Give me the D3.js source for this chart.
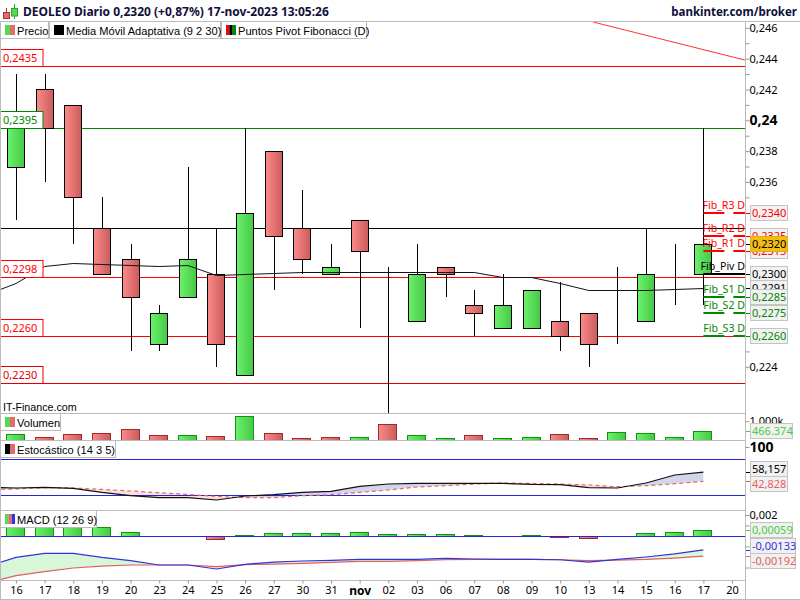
<!DOCTYPE html>
<html>
<head>
<meta charset="utf-8">
<title>DEOLEO Diario</title>
<script src="https://cdnjs.cloudflare.com/ajax/libs/d3/7.8.5/d3.min.js"></script>
<style>
	html, body { margin: 0; padding: 0; background: #fff; }
	svg { display: block; }
	text { font-family: "Noto Sans", Tahoma, sans-serif; font-size: 11px; }
	text.small { font-family: "Liberation Sans", Arial, sans-serif; font-size: 11.1px; }
	text.fib { font-size: 10.6px; }
</style>
</head>
<body>
<svg id="chart" width="800" height="600"></svg>
<script>
const dayLabels = ['16','17','18','19','20','23','24','25','26','27','30','31','nov','02','03','06','07','08','09','10','13','14','15','16','17','20'];

const opens  = [.2370,.2420,.2410,.2330,.2310,.2255,.2285,.2300,.2235,.2380,.2330,.2300,.2335,.2290,.2270,.2305,.2280,.2265,.2265,.2270,.2275,.2290,.2270,.2300,.2300];
const highs  = [.2430,.2430,.2410,.2350,.2320,.2280,.2370,.2330,.2395,.2380,.2355,.2320,.2335,.2305,.2320,.2305,.2290,.2300,.2290,.2295,.2275,.2305,.2330,.2320,.2395];
const lows   = [.2335,.2360,.2320,.2300,.2250,.2250,.2285,.2240,.2235,.2290,.2300,.2300,.2265,.2210,.2270,.2285,.2260,.2265,.2265,.2250,.2240,.2255,.2270,.2280,.2280];
const closes = [.2395,.2395,.2350,.2300,.2285,.2275,.2310,.2255,.2340,.2325,.2310,.2305,.2315,.2290,.2300,.2300,.2275,.2280,.2290,.2260,.2255,.2290,.2300,.2300,.2320];

const maBefore = .2287;
const maValues = [.22942,.23052,.23076,.2307,.23063,.23057,.23063,.22994,.23005,.23011,.23013,.23013,.23013,.23013,.23013,.23013,.23015,.22981,.22981,.22942,.22901,.22901,.22901,.22903,.2291];

const volumes = [305000,145000,305000,360000,575000,250000,250000,200000,1270000,360000,90000,145000,145000,840000,250000,90000,250000,90000,145000,305000,90000,415000,360000,145000,466374];
const volumeUp = [1,0,0,0,0,0,1,0,1,0,0,0,1,0,1,1,0,1,1,0,0,1,1,1,1];

const stochBefore = [33, 28.8];
const stochK = [31.7,32.7,31,24.3,18.8,15.5,15.5,11.7,18.3,20.5,24.3,26,34.3,38.3,39.3,39.3,39.3,39.3,37.7,37.2,32.2,31.7,40,53.3,58.157];
const stochD = [30,32.2,31.7,29.3,26.7,23.8,21,17.7,15.5,15.5,18.8,20.5,24.3,28.3,33.3,35.5,38.3,40,39.3,38.3,36.7,33.8,35.5,38.8,42.828];

const macdBefore = [-.00289, -.00445];
const macdLine = [-.00204,-.00166,-.00166,-.00204,-.00235,-.00276,-.00276,-.00314,-.0027,-.00248,-.00238,-.00232,-.00223,-.00223,-.00223,-.00213,-.00219,-.00223,-.00223,-.00226,-.00248,-.00223,-.002,-.00171,-.00133];
const macdSignal = [-.00378,-.0034,-.00305,-.00286,-.00276,-.00276,-.00276,-.00292,-.00273,-.00267,-.00261,-.00251,-.00242,-.00242,-.00235,-.00226,-.00223,-.00223,-.00223,-.00226,-.00235,-.00229,-.00223,-.0021,-.00192];
const macdHist = [.0012,.0012,.0011,.00088,.00038,0,0,-.00032,.0001,.00028,.00028,.00028,.00038,.00019,.00019,.00019,.0001,0,.0001,-.00013,-.00023,0,.00028,.00038,.00059];

const levelValues = [.2435,.2395,.2298,.2260,.22296,.2330];
const levelColors = ['#f00','#080','#f00','#f00','#e00000','#000'];
const levelTagged = [1,1,1,1,1,0];

const trendIdx = [20.15,25.45];
const trendVal = [.24638,.24391];

const pivotNames = ['Fib_R3 D','Fib_R2 D','Fib_R1 D','Fib_Piv D','Fib_S1 D','Fib_S2 D','Fib_S3 D'];
const pivotValues = [.2340,.2325,.2315,.2300,.2285,.2275,.2260];
const pivotColors = ['#f00','#f00','#f00','#000','#080','#080','#080'];

const priceTicks = [.246,.244,.242,.24,.238,.236,.224];
const priceMinor = [.245,.243,.241,.239,.237,.235,.225];

const W = 800, H = 600, axisX = 745.5;
const GREY = '#bbb';
const crisp = v => Math.round(v) + .5;
const comma = (v, d) => v.toFixed(d).replace('.', ',');

const svg = d3.select('#chart');

// gradients for the bodies
const defs = svg.append('defs');
const gradient = (id, from, to) => {
	const g = defs.append('linearGradient').attr('id', id);
	g.append('stop').attr('offset', 0).attr('stop-color', from);
	g.append('stop').attr('offset', 1).attr('stop-color', to);
};
gradient('up', '#6cf26c', '#46c846');
gradient('down', '#fb8a8a', '#cc5c5c');

const clip = (id, x, y, w, h) => defs.append('clipPath').attr('id', id)
	.append('rect').attr('x', x).attr('y', y).attr('width', w).attr('height', h);
clip('clip-main', 1, 21, 744.5, 392);
clip('clip-vol', 1, 414, 744.5, 26);
clip('clip-sto', 1, 441, 744.5, 69);
clip('clip-macd', 1, 511, 744.5, 69);

const x = d3.scaleLinear().domain([0, 25]).range([16, 732]);
const y = d3.scaleLinear().domain([.2395, .2260]).range([128, 336]);
const yVol = d3.scaleLinear().domain([0, 1000000]).range([440, 421.3]);
const ySto = d3.scaleLinear().domain([20, 80]).range([495, 459]);
const yMacd = d3.scaleLinear().domain([0, .002]).range([536, 515]);

const main = svg.append('g').attr('clip-path', 'url(#clip-main)');

// horizontal levels
main.selectAll('line.level').data(levelValues).join('line')
	.attr('class', 'level')
	.attr('x1', 0).attr('x2', axisX)
	.attr('y1', d => crisp(y(d))).attr('y2', d => crisp(y(d)))
	.attr('stroke', (d, i) => levelColors[i]);

main.append('line')
	.attr('x1', x(trendIdx[0])).attr('y1', y(trendVal[0]))
	.attr('x2', x(trendIdx[1])).attr('y2', y(trendVal[1]))
	.attr('stroke', '#f33');

// candles
const candles = main.selectAll('g.candle').data(opens).join('g').attr('class', 'candle');
candles.append('line')
	.attr('x1', (d, i) => crisp(x(i))).attr('x2', (d, i) => crisp(x(i)))
	.attr('y1', (d, i) => Math.round(y(highs[i]))).attr('y2', (d, i) => Math.round(y(lows[i])))
	.attr('stroke', '#000');
candles.append('rect')
	.attr('x', (d, i) => crisp(x(i)) - 9)
	.attr('width', 17)
	.attr('y', (d, i) => crisp(y(Math.max(d, closes[i]))))
	.attr('height', (d, i) => Math.abs(Math.round(y(d)) - Math.round(y(closes[i]))))
	.attr('fill', (d, i) => closes[i] >= d ? 'url(#up)' : 'url(#down)')
	.attr('stroke', '#000');

// adaptive moving average
const withBefore = (before, values) => [[-1, before]].concat(values.map((v, i) => [i, v]));
main.append('path')
	.attr('d', d3.line().x(d => x(d[0])).y(d => crisp(y(d[1])))(withBefore(maBefore, maValues)))
	.attr('fill', 'none').attr('stroke', '#111');

// pivots
pivotValues.forEach((v, i) => {
	main.append('line')
		.attr('x1', x(24)).attr('x2', axisX)
		.attr('y1', Math.round(y(v))).attr('y2', Math.round(y(v)))
		.attr('stroke', pivotColors[i]).attr('stroke-width', 2)
		.attr('stroke-dasharray', i == 3 ? null : '21 9');
	main.append('text')
		.attr('class', 'fib')
		.attr('x', 745).attr('y', Math.round(y(v)) - 4)
		.attr('text-anchor', 'end')
		.attr('fill', pivotColors[i])
		.text(pivotNames[i]);
});

// tags on the left side of the levels
levelValues.forEach((v, i) => {
	if (!levelTagged[i]) return;
	const ly = crisp(y(v));
	svg.append('rect')
		.attr('x', -1).attr('y', ly - 17).attr('width', 44).attr('height', 17)
		.attr('fill', '#fff').attr('stroke', levelColors[i]);
	svg.append('text')
		.attr('x', 3).attr('y', ly - 4.5).attr('fill', levelColors[i]).text(comma(v, 4));
});

svg.append('text').attr('class', 'small').attr('x', 3).attr('y', 411).attr('fill', '#000')
	.style('font-size', '10.7px').text('IT-Finance.com');

// volume
const bar = (sel, top, bottom, color) => sel.join('rect')
	.attr('x', (d, i) => crisp(x(i)) - 10)
	.attr('width', 18)
	.attr('y', (d, i) => crisp(top(d, i)))
	.attr('height', (d, i) => Math.max(0, Math.round(bottom(d, i)) - Math.round(top(d, i))))
	.attr('fill', (d, i) => color(d, i) ? 'url(#up)' : 'url(#down)')
	.attr('stroke', (d, i) => color(d, i) ? '#0e960e' : '#a02a2a');

bar(svg.append('g').attr('clip-path', 'url(#clip-vol)').selectAll('rect').data(volumes),
	d => yVol(d), () => yVol(0), (d, i) => volumeUp[i]);

// difference fill between two series, with the lines on top
function crossFill(g, id, yScale, a, b, aboveColor, belowColor) {
	const area = d3.area().x(d => x(d[0])).y0(d => yScale(d[1])).y1(d => yScale(d[2]));
	const both = a.map((d, i) => [d[0], d[1], b[i][1]]);
	defs.append('clipPath').attr('id', id + '-a')
		.append('path').attr('d', d3.area().x(d => x(d[0])).y0(0).y1(d => yScale(d[1]))(b));
	defs.append('clipPath').attr('id', id + '-b')
		.append('path').attr('d', d3.area().x(d => x(d[0])).y0(H).y1(d => yScale(d[1]))(b));
	g.append('path').attr('d', area(both)).attr('fill', aboveColor).attr('clip-path', 'url(#' + id + '-a)');
	g.append('path').attr('d', area(both)).attr('fill', belowColor).attr('clip-path', 'url(#' + id + '-b)');
}
const seriesLine = (scale) => d3.line().x(d => x(d[0])).y(d => scale(d[1]));

// stochastic
const sto = svg.append('g').attr('clip-path', 'url(#clip-sto)');
const stoK = withBefore(stochBefore[0], stochK);
const stoD = withBefore(stochBefore[1], stochD);
crossFill(sto, 'sto', ySto, stoK, stoD, '#d3d5ea', '#fbdfdf');
sto.selectAll('line').data([20, 80]).join('line')
	.attr('x1', 0).attr('x2', axisX)
	.attr('y1', d => crisp(ySto(d))).attr('y2', d => crisp(ySto(d)))
	.attr('stroke', '#2424d8');
sto.append('path').attr('d', seriesLine(ySto)(stoD))
	.attr('fill', 'none').attr('stroke', '#e46a6a').attr('stroke-width', 1.2).attr('stroke-dasharray', '4 3');
sto.append('path').attr('d', seriesLine(ySto)(stoK))
	.attr('fill', 'none').attr('stroke', '#111').attr('stroke-width', 1.2);

// macd
const macd = svg.append('g').attr('clip-path', 'url(#clip-macd)');
const mLine = withBefore(macdBefore[0], macdLine);
const mSignal = withBefore(macdBefore[1], macdSignal);
crossFill(macd, 'macd', yMacd, mLine, mSignal, '#d8f6d8', '#fbdcdc');
bar(macd.append('g').selectAll('rect').data(macdHist.map((v, i) => ({v, i})).filter(d => d.v != 0)),
	d => yMacd(Math.max(d.v, 0)), d => yMacd(Math.min(d.v, 0)), d => d.v > 0)
	.attr('x', d => crisp(x(d.i)) - 10);
macd.append('line')
	.attr('x1', 0).attr('x2', axisX).attr('y1', crisp(yMacd(0))).attr('y2', crisp(yMacd(0)))
	.attr('stroke', '#2424d8');
macd.append('path').attr('d', seriesLine(yMacd)(mSignal))
	.attr('fill', 'none').attr('stroke', '#e06060').attr('stroke-width', 1.2);
macd.append('path').attr('d', seriesLine(yMacd)(mLine))
	.attr('fill', 'none').attr('stroke', '#3333dd').attr('stroke-width', 1.2);

// frame
[[0, W, 21], [0, axisX, 413], [0, axisX, 440], [0, axisX, 510], [0, axisX, 580], [0, W, 599]].forEach(d => {
	svg.append('line').attr('x1', d[0]).attr('x2', d[1]).attr('y1', d[2] + .5).attr('y2', d[2] + .5).attr('stroke', GREY);
});
svg.append('line').attr('x1', .5).attr('x2', .5).attr('y1', 21).attr('y2', H).attr('stroke', GREY);
svg.append('line').attr('x1', axisX).attr('x2', axisX).attr('y1', 21).attr('y2', 600).attr('stroke', GREY);

// price axis
const styleAxis = g => {
	g.select('.domain').remove();
	g.selectAll('line').attr('stroke', '#999');
	g.selectAll('text').attr('fill', '#000').attr('font-family', null).attr('font-size', null);
};
const rightAxis = (scale, values, fmt, cls) => svg.append('g')
	.attr('class', cls)
	.attr('transform', 'translate(' + axisX + ',0)')
	.call(d3.axisRight(scale).tickValues(values).tickSize(4).tickPadding(0).tickFormat(fmt))
	.call(styleAxis);

rightAxis(y, priceMinor, () => '', 'minor');
const priceAxis = rightAxis(y, priceTicks, d => d === .24 ? '0,24' : comma(d, 3), 'price');
priceAxis.selectAll('text')
	.filter(d => d === .24)
	.style('font-weight', 'bold').style('font-size', '14px');

rightAxis(yVol, [1000000], () => '1.000k', 'vol-axis');
const stoAxis = rightAxis(ySto, [100], d => d, 'sto-axis');
stoAxis.selectAll('text').style('font-weight', 'bold').style('font-size', '14px');
rightAxis(yMacd, [.002], d => comma(d, 3), 'macd-axis');
rightAxis(yMacd, [.001, -.001, -.003], () => '', 'macd-minor');

// day axis
const dayAxis = svg.append('g')
	.attr('transform', 'translate(0,580.5)')
	.call(d3.axisBottom(x).tickValues(d3.range(dayLabels.length)).tickSize(3).tickPadding(3).tickFormat(i => dayLabels[i]))
	.call(styleAxis);
dayAxis.selectAll('text').filter(i => dayLabels[i] == 'nov')
	.style('font-weight', 'bold').style('font-size', '12px');

// value boxes on the axis
const lastBoxes = [
	{text: comma(pivotValues[0], 4), color: pivotColors[0], at: y(pivotValues[0]), tick: y(pivotValues[0]), w: 37},
	{text: comma(pivotValues[1], 4), color: pivotColors[1], at: y(pivotValues[1]), tick: y(pivotValues[1]), w: 37},
	{text: comma(pivotValues[2], 4), color: pivotColors[2], at: y(pivotValues[2]), tick: y(pivotValues[2]), w: 37},
	{text: comma(closes[24], 4), color: '#000', at: y(closes[24]), tick: y(closes[24]), w: 37, fill: '#f5bd12', stroke: '#e2ad10'},
	{text: comma(pivotValues[3], 4), color: pivotColors[3], at: y(pivotValues[3]), tick: y(pivotValues[3]), w: 37},
	{text: comma(maValues[24], 4), color: '#000', at: y(maValues[24]), tick: y(maValues[24]), w: 37},
	{text: comma(pivotValues[4], 4), color: pivotColors[4], at: y(pivotValues[4]), tick: y(pivotValues[4]), w: 37},
	{text: comma(pivotValues[5], 4), color: pivotColors[5], at: y(pivotValues[5]), tick: y(pivotValues[5]), w: 37},
	{text: comma(pivotValues[6], 4), color: pivotColors[6], at: y(pivotValues[6]), tick: y(pivotValues[6]), w: 37},
	{text: '466.374', color: '#44cc44', at: yVol(volumes[24]), tick: yVol(volumes[24]), w: 42},
	{text: comma(stochK[24], 3), color: '#000', at: 469, tick: ySto(stochK[24]), w: 37},
	{text: comma(stochD[24], 3), color: '#e46060', at: 484, tick: ySto(stochD[24]), w: 37},
	{text: comma(macdHist[24], 5), color: '#44cc44', at: yMacd(macdHist[24]), tick: yMacd(macdHist[24]), w: 42},
	{text: comma(macdLine[24], 5), color: '#3333dd', at: 546, tick: yMacd(macdLine[24]), w: 45},
	{text: comma(macdSignal[24], 5), color: '#e46060', at: 561, tick: yMacd(macdSignal[24]), w: 45}
];
lastBoxes.forEach(b => {
	const cy = Math.round(b.at);
	svg.append('line').attr('x1', 746).attr('x2', 751)
		.attr('y1', crisp(b.tick)).attr('y2', crisp(b.tick)).attr('stroke', b.color);
	svg.append('rect').attr('x', 750.5).attr('y', cy - 7.5).attr('width', b.w).attr('height', 15)
		.attr('fill', b.fill || '#f1f1f1').attr('stroke', b.stroke || '#c4c4c4');
	svg.append('text').attr('x', 752).attr('y', cy + 4).attr('fill', b.color).text(b.text);
});

// legend buttons
const legendRow = [
	{x: 1, y: 22, w: 48, label: 'Precio', colors: ['#55d955', '#e46a6a']},
	{x: 50, y: 22, w: 171, label: 'Media Móvil Adaptativa (9 2 30)', colors: ['#000']},
	{x: 222, y: 22, w: 145, label: 'Puntos Pivot Fibonacci (D)', colors: ['#f00', '#000', '#080']},
	{x: 1, y: 414, w: 60, label: 'Volumen', colors: ['#55d955', '#e46a6a']},
	{x: 1, y: 441, w: 115, label: 'Estocástico (14 3 5)', colors: ['#000', '#e46a6a']},
	{x: 1, y: 511, w: 96, label: 'MACD (12 26 9)', colors: ['#55d955', '#e46a6a', '#3333dd']}
];
legendRow.forEach(l => {
	const g = svg.append('g').attr('transform', 'translate(' + l.x + ',' + l.y + ')');
	g.append('rect').attr('x', -.5).attr('y', -.5).attr('width', l.w).attr('height', 17)
		.attr('fill', '#fff').attr('stroke', GREY);
	const sw = 10 / l.colors.length;
	l.colors.forEach((c, i) => {
		g.append('rect').attr('x', 4 + i * sw).attr('y', 3).attr('width', sw).attr('height', 10).attr('fill', c);
	});
	g.append('text').attr('class', 'small').attr('x', 16).attr('y', 12.5).attr('fill', '#000').text(l.label);
});

// header
const icon = svg.append('g');
[[6, 8, 19, 3.5, 12, 6, 6, '#e46a6a', '#a33'], [14, 4, 19, 11.5, 8, 6, 7.5, '#55d955', '#2a2']].forEach(c => {
	icon.append('line').attr('x1', c[0] + .5).attr('x2', c[0] + .5).attr('y1', c[1]).attr('y2', c[2]).attr('stroke', c[8]);
	icon.append('rect').attr('x', c[3]).attr('y', c[4] + .5).attr('width', c[5]).attr('height', c[6])
		.attr('fill', c[7]).attr('stroke', c[8]);
});
svg.append('text').attr('x', 23).attr('y', 16).attr('fill', '#10103a')
	.style('font-weight', 'bold').style('font-size', '12px')
	.text('DEOLEO Diario 0,2320 (+0,87%) 17-nov-2023 13:05:26');
svg.append('text').attr('x', 797).attr('y', 16).attr('text-anchor', 'end').attr('fill', '#10103a')
	.style('font-weight', 'bold').style('font-size', '11.5px')
	.text('bankinter.com/broker');
</script>
</body>
</html>
